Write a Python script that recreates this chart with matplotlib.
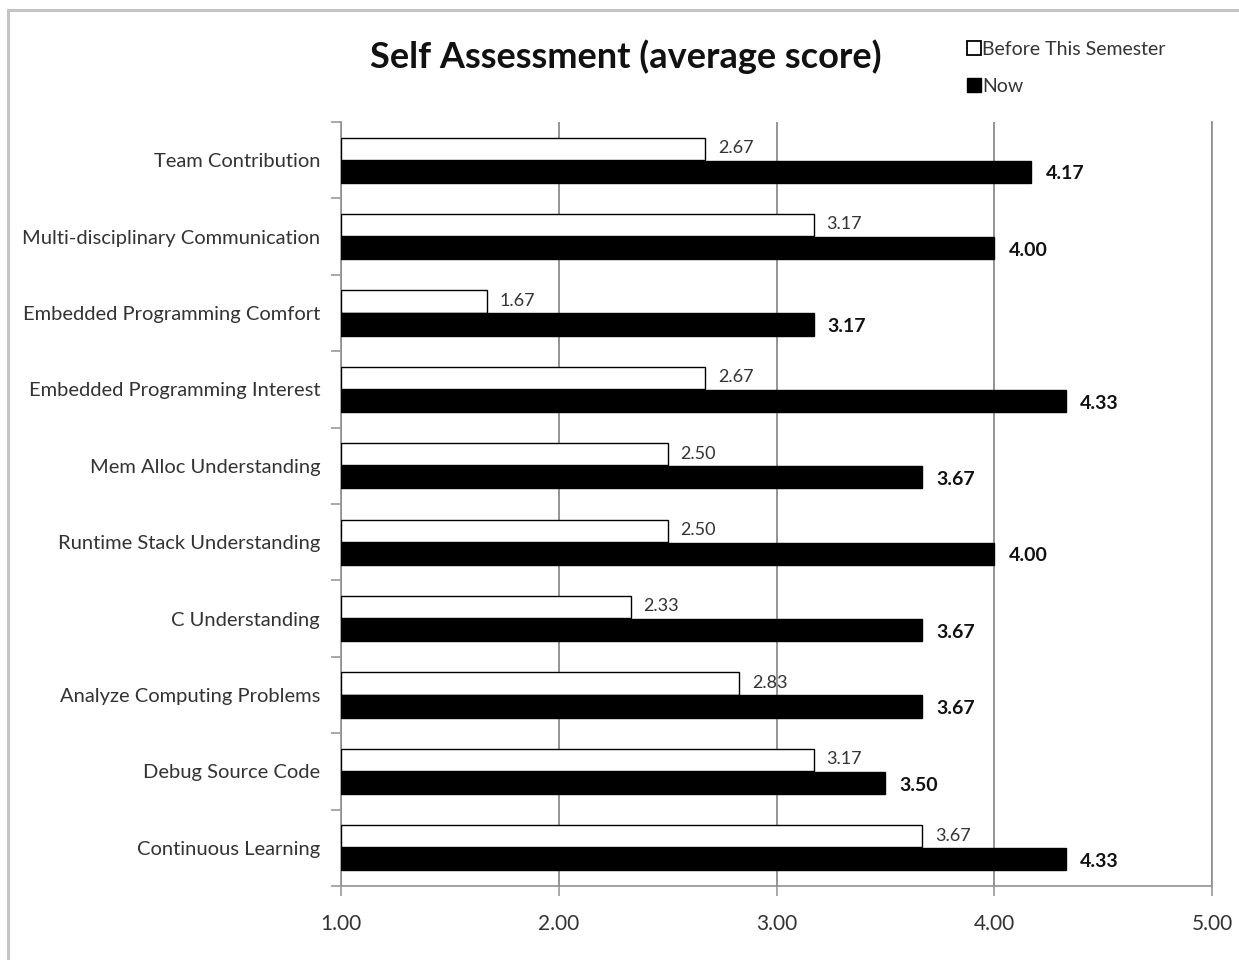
import numpy as np
import matplotlib
matplotlib.use("Agg")
import matplotlib.pyplot as plt
from matplotlib.patches import Rectangle
from matplotlib.lines import Line2D

plt.rcParams['font.family'] = ['Lato', 'DejaVu Sans']

categories = [
    "Team Contribution",
    "Multi-disciplinary Communication",
    "Embedded Programming Comfort",
    "Embedded Programming Interest",
    "Mem Alloc Understanding",
    "Runtime Stack Understanding",
    "C Understanding",
    "Analyze Computing Problems",
    "Debug Source Code",
    "Continuous Learning",
]
before = [2.67, 3.17, 1.67, 2.67, 2.50, 2.50, 2.33, 2.83, 3.17, 3.67]
now = [4.17, 4.00, 3.17, 4.33, 3.67, 4.00, 3.67, 3.67, 3.50, 4.33]
x_ticks = [1.0, 2.0, 3.0, 4.0, 5.0]
series_names = ["Before This Semester", "Now"]

base = 1.0
W, H = 1239, 960
fig = plt.figure(figsize=(W / 100, H / 100), dpi=100)
fig.patch.set_facecolor("white")

# outer chart frame
fig.add_artist(Rectangle((8 / W, -0.05), 1.2, 1 - 10 / H + 0.05,
                         transform=fig.transFigure, fill=False,
                         edgecolor="#c4c4c4", lw=2.2, zorder=0))

ax = fig.add_axes([341 / W, 1 - 886 / H, (1212 - 341) / W, (886 - 122) / H])

n = len(categories)
y = np.arange(n)
bh = 0.29
off = 0.15
bv = np.array(before)
nv = np.array(now)

ax.barh(y - off, bv - base, left=base, height=bh, color="white",
        edgecolor="black", lw=1.0, zorder=3)
ax.barh(y + off, nv - base, left=base, height=bh, color="black",
        edgecolor="black", lw=1.0, zorder=3)

for yi, v in zip(y, before):
    ax.text(v + 0.06, yi - off - 0.01, f"{v:.2f}", va="center", ha="left",
            fontsize=13, color="#333333", zorder=2)
for yi, v in zip(y, now):
    ax.text(v + 0.065, yi + off + 0.03, f"{v:.2f}", va="center", ha="left",
            fontsize=14, fontweight="bold", color="#111111", zorder=2)

ax.set_xlim(1, 5)
ax.set_ylim(n - 0.5, -0.5)
ax.set_xticks(x_ticks)
ax.set_xticklabels([f"{t:.2f}" for t in x_ticks], fontsize=15, color="#333333")
ax.set_yticks(y)
ax.set_yticklabels(categories, fontsize=14.5, color="#333333")
ax.set_yticks(np.arange(-0.5, n, 1.0), minor=True)

ax.tick_params(axis="y", which="major", length=0, pad=15)
ax.tick_params(axis="y", which="minor", length=7, width=1.2, color="#999999",
               direction="out")
ax.tick_params(axis="x", length=7, width=1.2, color="#999999", pad=13)

ax.grid(axis="x", color="#8c8c8c", lw=1.3, zorder=4)
ax.set_axisbelow(False)
for s in ["left", "bottom", "right"]:
    ax.spines[s].set_color("#999999")
    ax.spines[s].set_linewidth(1.3)
ax.spines["top"].set_visible(False)

fig.text(626 / W, 1 - 57 / H, "Self Assessment (average score)", ha="center",
         va="center", fontsize=26, fontweight="bold", color="#111111")

handles = [
    Line2D([], [], marker="s", ls="none", markersize=10, markerfacecolor="white",
           markeredgecolor="black", markeredgewidth=1.3),
    Line2D([], [], marker="s", ls="none", markersize=10, markerfacecolor="black",
           markeredgecolor="black"),
]
fig.legend(handles, series_names, loc="upper left",
           bbox_to_anchor=(960 / W, 1 - 33 / H), frameon=False,
           fontsize=14, handlelength=0.6, handletextpad=0.15,
           labelspacing=1.05, labelcolor="#333333", borderaxespad=0)

fig.savefig("out.png", dpi=100)
